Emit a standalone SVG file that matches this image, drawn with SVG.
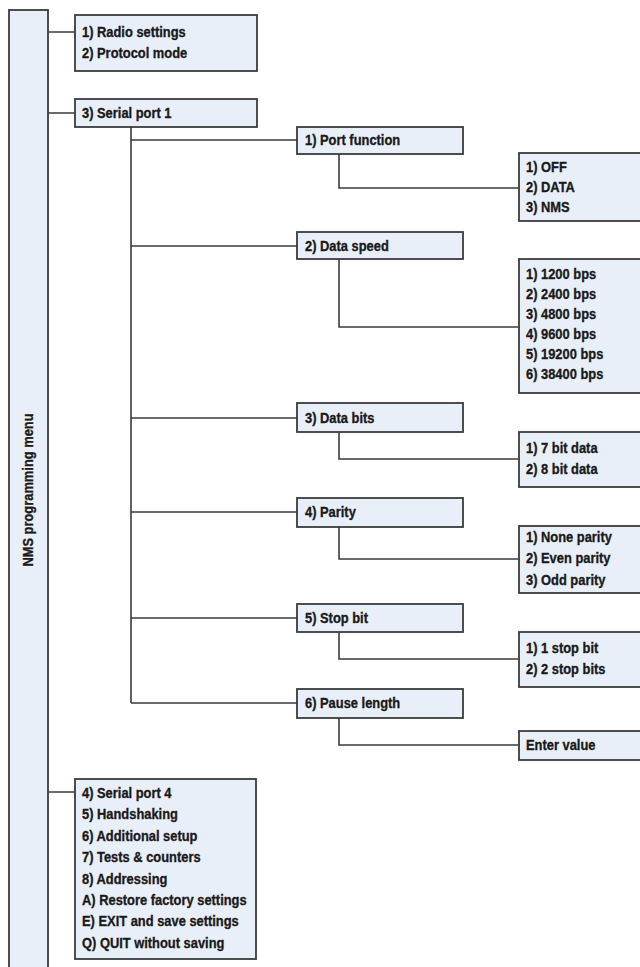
<svg xmlns="http://www.w3.org/2000/svg" width="640" height="967" viewBox="0 0 640 967">
<style>
.box{fill:#e9eff8;stroke:#3b3b3b;stroke-width:1.8}
.conn{fill:none;stroke:#3b3b3b;stroke-width:1.6}
text{font-family:"Liberation Sans",Arial,sans-serif;font-weight:bold;font-size:15px;fill:#1a1a1a;stroke:#1a1a1a;stroke-width:0.35}
</style>
<rect x="0" y="0" width="640" height="967" fill="#ffffff"/>
<g id="connectors">
<path class="conn" d="M48 32H75M48 113H75M48 792H75"/>
<path class="conn" d="M131 127V703M131 140H297M131 246H297M131 418H297M131 512H297M131 618H297M131 703H297"/>
<path class="conn" d="M339 154V188H519M339 259V327H519M339 432V459H519M339 527V559H519M339 632V659H519M339 718V745H519"/>
</g>
<g id="root">
<rect class="box" x="9" y="10" width="39" height="970"/>
<text transform="translate(33,490) rotate(-90) scale(0.86,1)" text-anchor="middle">NMS programming menu</text>
</g>
<g id="menu-1-2">
<rect class="box" x="75" y="15" width="182" height="56"/>
<g transform="scale(0.86,1)">
<text x="95.35" y="37">1) Radio settings</text>
<text x="95.35" y="58">2) Protocol mode</text>
</g>
</g>
<g id="serial-port-1">
<rect class="box" x="75" y="99" width="182" height="28"/>
<g transform="scale(0.86,1)"><text x="95.35" y="118">3) Serial port 1</text></g>
</g>
<g id="port-function">
<rect class="box" x="297" y="127" width="166" height="27"/>
<g transform="scale(0.86,1)"><text x="354.65" y="145">1) Port function</text></g>
</g>
<g id="port-function-options">
<rect class="box" x="519" y="153" width="130" height="68"/>
<g transform="scale(0.86,1)">
<text x="611.63" y="172">1) OFF</text>
<text x="611.63" y="192">2) DATA</text>
<text x="611.63" y="212">3) NMS</text>
</g>
</g>
<g id="data-speed">
<rect class="box" x="297" y="232" width="166" height="27"/>
<g transform="scale(0.86,1)"><text x="354.65" y="251">2) Data speed</text></g>
</g>
<g id="data-speed-options">
<rect class="box" x="519" y="259" width="130" height="134"/>
<g transform="scale(0.86,1)">
<text x="611.63" y="279">1) 1200 bps</text>
<text x="611.63" y="299">2) 2400 bps</text>
<text x="611.63" y="319">3) 4800 bps</text>
<text x="611.63" y="339">4) 9600 bps</text>
<text x="611.63" y="359">5) 19200 bps</text>
<text x="611.63" y="379">6) 38400 bps</text>
</g>
</g>
<g id="data-bits">
<rect class="box" x="297" y="403" width="166" height="29"/>
<g transform="scale(0.86,1)"><text x="354.65" y="423">3) Data bits</text></g>
</g>
<g id="data-bits-options">
<rect class="box" x="519" y="432" width="130" height="55"/>
<g transform="scale(0.86,1)">
<text x="611.63" y="453">1) 7 bit data</text>
<text x="611.63" y="474">2) 8 bit data</text>
</g>
</g>
<g id="parity">
<rect class="box" x="297" y="498" width="166" height="29"/>
<g transform="scale(0.86,1)"><text x="354.65" y="517">4) Parity</text></g>
</g>
<g id="parity-options">
<rect class="box" x="519" y="526" width="130" height="67"/>
<g transform="scale(0.86,1)">
<text x="611.63" y="542">1) None parity</text>
<text x="611.63" y="563">2) Even parity</text>
<text x="611.63" y="585">3) Odd parity</text>
</g>
</g>
<g id="stop-bit">
<rect class="box" x="297" y="604" width="166" height="28"/>
<g transform="scale(0.86,1)"><text x="354.65" y="623">5) Stop bit</text></g>
</g>
<g id="stop-bit-options">
<rect class="box" x="519" y="632" width="130" height="55"/>
<g transform="scale(0.86,1)">
<text x="611.63" y="653">1) 1 stop bit</text>
<text x="611.63" y="674">2) 2 stop bits</text>
</g>
</g>
<g id="pause-length">
<rect class="box" x="297" y="689" width="166" height="29"/>
<g transform="scale(0.86,1)"><text x="354.65" y="708">6) Pause length</text></g>
</g>
<g id="enter-value">
<rect class="box" x="519" y="731" width="130" height="29"/>
<g transform="scale(0.86,1)"><text x="611.63" y="750">Enter value</text></g>
</g>
<g id="menu-4-q">
<rect class="box" x="75" y="779" width="181" height="180"/>
<g transform="scale(0.86,1)">
<text x="95.35" y="798">4) Serial port 4</text>
<text x="95.35" y="819">5) Handshaking</text>
<text x="95.35" y="841">6) Additional setup</text>
<text x="95.35" y="862">7) Tests &amp; counters</text>
<text x="95.35" y="884">8) Addressing</text>
<text x="95.35" y="905">A) Restore factory settings</text>
<text x="95.35" y="926">E) EXIT and save settings</text>
<text x="95.35" y="948">Q) QUIT without saving</text>
</g>
</g>
</svg>
